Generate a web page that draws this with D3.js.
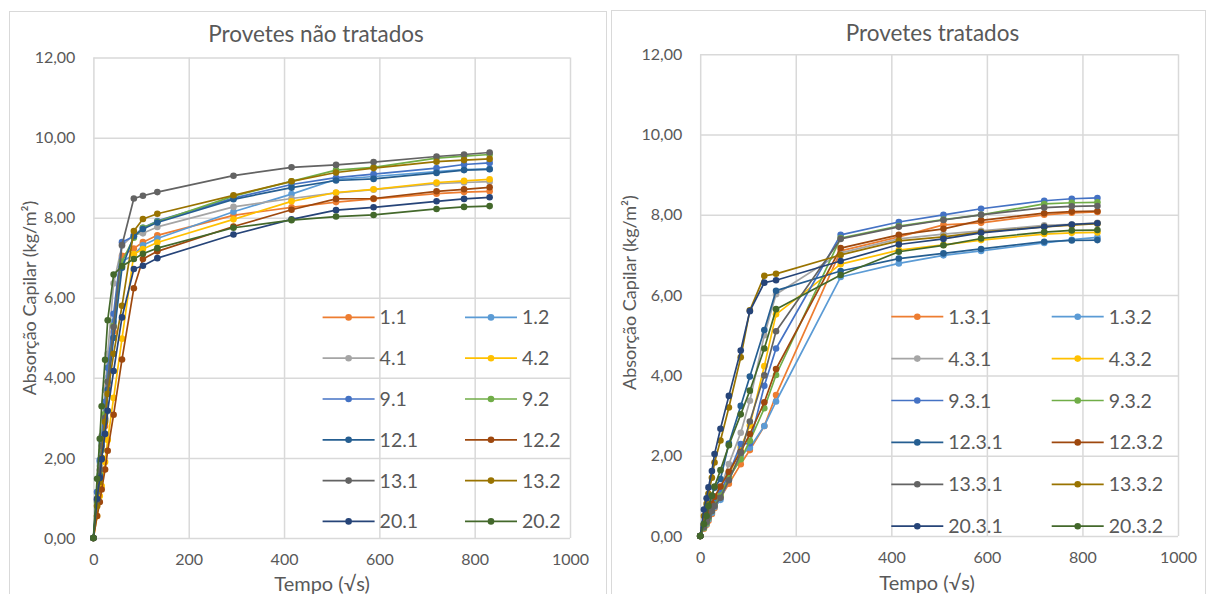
<!DOCTYPE html>
<html>
<head>
<meta charset="utf-8">
<script src="https://cdn.jsdelivr.net/npm/d3@7"></script>
<style>
  body { margin: 0; background: #fff; }
  svg { display: block; }
</style>
</head>
<body>
<div id="chart"></div>
<script>
(function () {
'use strict';
// Absorção capilar — provetes não tratados / tratados (two Excel-style line charts)

// ---- data ----
// time axis in √s (sqrt of 1min, 3min, 5min, 10min, 15min, 30min, 1h, 2h, 3h, 5h, [7h], 1d..8d)
const xUntreated = [0, 7.75, 13.42, 17.32, 24.49, 30, 42.43, 60, 84.85, 103.92, 134.16,
  293.94, 415.69, 509.12, 587.88, 720, 777.69, 831.38];
const xTreated = [0, 7.75, 13.42, 17.32, 24.49, 30, 42.43, 60, 84.85, 103.92, 134.16, 158.75,
  293.94, 415.69, 509.12, 587.88, 720, 777.69, 831.38];

const namesUntreated = ["1.1", "1.2", "4.1", "4.2", "9.1", "9.2", "12.1", "12.2", "13.1", "13.2", "20.1", "20.2"];
const namesTreated = ["1.3.1", "1.3.2", "4.3.1", "4.3.2", "9.3.1", "9.3.2", "12.3.1", "12.3.2", "13.3.1", "13.3.2", "20.3.1", "20.3.2"];

// kg/m², one row per specimen (same order as the names)
const valuesUntreated = [
  [0, 0.80, 1.50, 2.00, 2.80, 3.80, 5.15, 7.05, 7.23, 7.39, 7.56, 8.06, 8.26, 8.39, 8.47, 8.60, 8.64, 8.66],
  [0, 1.15, 1.90, 2.40, 3.30, 4.00, 5.40, 6.90, 7.08, 7.31, 7.48, 8.15, 8.59, 8.96, 9.03, 9.15, 9.20, 9.22],
  [0, 1.00, 1.80, 2.55, 3.70, 4.60, 6.36, 7.30, 7.58, 7.61, 7.77, 8.27, 8.48, 8.62, 8.70, 8.85, 8.88, 8.90],
  [0, 0.55, 1.05, 1.30, 1.90, 2.45, 3.50, 4.98, 7.09, 7.22, 7.38, 7.96, 8.41, 8.63, 8.71, 8.88, 8.92, 8.96],
  [0, 1.15, 1.95, 2.50, 3.40, 4.25, 5.60, 7.39, 7.54, 7.75, 7.92, 8.49, 8.83, 9.00, 9.09, 9.24, 9.33, 9.37],
  [0, 0.90, 1.60, 2.20, 3.10, 3.90, 5.30, 6.90, 7.50, 7.75, 7.90, 8.54, 8.91, 9.19, 9.26, 9.49, 9.54, 9.58],
  [0, 0.95, 1.55, 2.00, 2.95, 3.70, 5.00, 6.75, 7.54, 7.72, 7.88, 8.46, 8.75, 8.93, 8.97, 9.12, 9.19, 9.21],
  [0, 0.55, 0.90, 1.21, 1.71, 2.18, 3.08, 4.46, 6.24, 6.97, 7.16, 7.78, 8.20, 8.47, 8.48, 8.66, 8.71, 8.76],
  [0, 0.95, 1.70, 2.30, 3.00, 3.90, 5.27, 7.32, 8.48, 8.55, 8.64, 9.05, 9.26, 9.32, 9.39, 9.53, 9.58, 9.63],
  [0, 0.80, 1.40, 2.00, 2.90, 3.60, 4.60, 5.80, 7.67, 7.97, 8.10, 8.56, 8.91, 9.13, 9.24, 9.40, 9.44, 9.47],
  [0, 0.98, 1.50, 1.97, 2.60, 3.18, 4.17, 5.51, 6.72, 6.80, 6.99, 7.58, 7.96, 8.19, 8.26, 8.41, 8.47, 8.51],
  [0, 1.48, 2.48, 3.29, 4.45, 5.44, 6.58, 6.79, 6.97, 7.10, 7.24, 7.75, 7.94, 8.03, 8.07, 8.22, 8.27, 8.29]
];
const valuesTreated = [
  [0, 0.18, 0.28, 0.38, 0.55, 0.70, 0.95, 1.30, 1.79, 2.14, 2.74, 3.51, 7.10, 7.45, 7.75, 7.80, 8.00, 8.05, 8.07],
  [0, 0.20, 0.30, 0.42, 0.58, 0.72, 0.90, 1.40, 2.00, 2.20, 2.74, 3.35, 6.45, 6.79, 6.99, 7.10, 7.30, 7.38, 7.44],
  [0, 0.30, 0.45, 0.60, 0.80, 0.95, 1.20, 1.79, 2.57, 3.37, 5.00, 6.02, 7.05, 7.40, 7.52, 7.60, 7.74, 7.76, 7.80],
  [0, 0.22, 0.35, 0.48, 0.65, 0.80, 1.05, 1.50, 2.20, 2.75, 4.23, 5.52, 6.77, 7.12, 7.25, 7.37, 7.52, 7.55, 7.56],
  [0, 0.25, 0.38, 0.50, 0.70, 0.85, 1.10, 1.55, 2.29, 2.31, 3.74, 4.67, 7.50, 7.82, 8.00, 8.15, 8.35, 8.40, 8.42],
  [0, 0.20, 0.32, 0.45, 0.62, 0.78, 1.00, 1.45, 1.91, 2.37, 3.18, 4.01, 7.42, 7.72, 7.88, 8.00, 8.27, 8.30, 8.31],
  [0, 0.30, 0.55, 0.75, 1.00, 1.20, 1.42, 2.30, 3.24, 3.97, 5.13, 6.11, 6.60, 6.91, 7.04, 7.15, 7.33, 7.36, 7.37],
  [0, 0.28, 0.42, 0.58, 0.80, 0.98, 1.23, 1.60, 2.10, 2.54, 3.33, 4.16, 7.17, 7.50, 7.65, 7.86, 8.04, 8.08, 8.09],
  [0, 0.22, 0.35, 0.48, 0.62, 0.75, 0.95, 1.39, 2.07, 2.85, 4.00, 5.10, 7.40, 7.70, 7.87, 8.00, 8.18, 8.21, 8.22],
  [0, 0.50, 0.80, 1.05, 1.45, 1.83, 2.38, 3.20, 4.45, 5.62, 6.48, 6.53, 7.00, 7.35, 7.45, 7.57, 7.70, 7.74, 7.78],
  [0, 0.66, 0.94, 1.21, 1.62, 2.04, 2.67, 3.49, 4.62, 5.60, 6.31, 6.37, 6.85, 7.26, 7.40, 7.55, 7.70, 7.76, 7.79],
  [0, 0.30, 0.50, 0.75, 1.00, 1.23, 1.64, 2.26, 3.03, 3.62, 4.67, 5.65, 6.50, 7.08, 7.24, 7.41, 7.57, 7.61, 7.62]
];

const xTicks = [0, 200, 400, 600, 800, 1000];
const yTicks = [0, 2, 4, 6, 8, 10, 12];

// Excel office palette, in series order
const COLORS = ["#ED7D31", "#5B9BD5", "#A5A5A5", "#FFC000", "#4472C4", "#70AD47",
  "#255E91", "#9E480E", "#636363", "#997300", "#264478", "#43682B"];

const FONT = "Lato, 'Noto Sans', sans-serif";
const TEXT_COLOR = "#595959";
const GRID_COLOR = "#d9d9d9";

const W = 1209, H = 594;
const svg = d3.select("#chart").append("svg")
  .attr("width", W).attr("height", H)
  .attr("font-family", FONT);
svg.append("rect").attr("width", W).attr("height", H).attr("fill", "#fff");

const fmtComma = v => d3.format(".2f")(v).replace(".", ",");

function drawPanel(p) {
  // chart frame
  svg.append("rect")
    .attr("x", p.frame[0]).attr("y", p.frame[1])
    .attr("width", p.frame[2]).attr("height", p.frame[3])
    .attr("fill", "none").attr("stroke", GRID_COLOR).attr("stroke-width", 1);

  const x = d3.scaleLinear().domain([0, 1000]).range([p.left, p.right]);
  const y = d3.scaleLinear().domain([0, 12]).range([p.bottom, p.top]);
  const g = svg.append("g");

  const xAxisG = g.append("g")
    .attr("transform", `translate(0,${p.bottom})`)
    .call(d3.axisBottom(x).tickValues(xTicks)
      .tickSizeInner(-(p.bottom - p.top)).tickSizeOuter(0)
      .tickPadding(16).tickFormat(d3.format("d")));
  const yAxisG = g.append("g")
    .attr("transform", `translate(${p.left},0)`)
    .call(d3.axisLeft(y).tickValues(yTicks)
      .tickSizeInner(-(p.right - p.left)).tickSizeOuter(0)
      .tickPadding(18).tickFormat(fmtComma));

  [xAxisG, yAxisG].forEach(a => {
    a.attr("font-family", null).attr("font-size", null);
    a.select(".domain").remove();
    a.selectAll("line").attr("stroke", GRID_COLOR).attr("stroke-width", 1.5);
    a.selectAll("text").attr("fill", TEXT_COLOR).attr("font-size", 16);
  });

  // series
  const line = d3.line().x((d, i) => x(p.xs[i])).y(d => y(d));
  p.values.forEach((vals, k) => {
    const col = COLORS[k];
    const s = g.append("g");
    s.append("path").attr("d", line(vals))
      .attr("fill", "none").attr("stroke", col).attr("stroke-width", 1.7)
      .attr("stroke-linejoin", "round");
    s.selectAll("circle").data(vals).join("circle")
      .attr("cx", (d, i) => x(p.xs[i])).attr("cy", d => y(d))
      .attr("r", 3.3).attr("fill", col);
  });

  // legend (2 columns, transparent)
  const lg = g.append("g");
  p.names.forEach((name, k) => {
    const cx = p.legX[k % 2];
    const cy = p.legY0 + Math.floor(k / 2) * p.legDy;
    lg.append("line").attr("x1", cx).attr("x2", cx + 52).attr("y1", cy).attr("y2", cy)
      .attr("stroke", COLORS[k]).attr("stroke-width", 1.7);
    lg.append("circle").attr("cx", cx + 26).attr("cy", cy).attr("r", 3.3).attr("fill", COLORS[k]);
    lg.append("text").attr("x", cx + 57).attr("y", cy).attr("dy", "0.36em")
      .attr("fill", TEXT_COLOR).attr("font-size", 19.5).text(name);
  });

  // titles
  g.append("text").attr("x", p.titleX).attr("y", p.titleY).attr("dy", "0.36em")
    .attr("text-anchor", "middle").attr("fill", TEXT_COLOR).attr("font-size", 22.5)
    .text(p.title);
  g.append("text")
    .attr("transform", `translate(${p.yTitleX},${p.yTitleY}) rotate(-90)`)
    .attr("dy", "0.36em").attr("text-anchor", "middle")
    .attr("fill", TEXT_COLOR).attr("font-size", 18)
    .text("Absorção Capilar (kg/m²)");
  g.append("text").attr("x", p.xTitleX).attr("y", p.xTitleY).attr("dy", "0.36em")
    .attr("text-anchor", "middle").attr("fill", TEXT_COLOR).attr("font-size", 20)
    .text("Tempo (√s)");
}

drawPanel({
  title: "Provetes não tratados",
  xs: xUntreated, values: valuesUntreated, names: namesUntreated,
  frame: [9.5, 11.5, 597, 600],
  left: 93.4, right: 570, top: 57.6, bottom: 538,
  legX: [322.6, 465], legY0: 317.4, legDy: 40.8,
  titleX: 316, titleY: 34, yTitleX: 29.5, yTitleY: 298, xTitleX: 322, xTitleY: 584
});

drawPanel({
  title: "Provetes tratados",
  xs: xTreated, values: valuesTreated, names: namesTreated,
  frame: [611.5, 10.5, 594, 600],
  left: 700.2, right: 1178, top: 54.2, bottom: 536,
  legX: [891.3, 1051.7], legY0: 316.7, legDy: 41.9,
  titleX: 932.5, titleY: 33, yTitleX: 630, yTitleY: 292.6, xTitleX: 927, xTitleY: 583
});
})();
</script>
</body>
</html>
